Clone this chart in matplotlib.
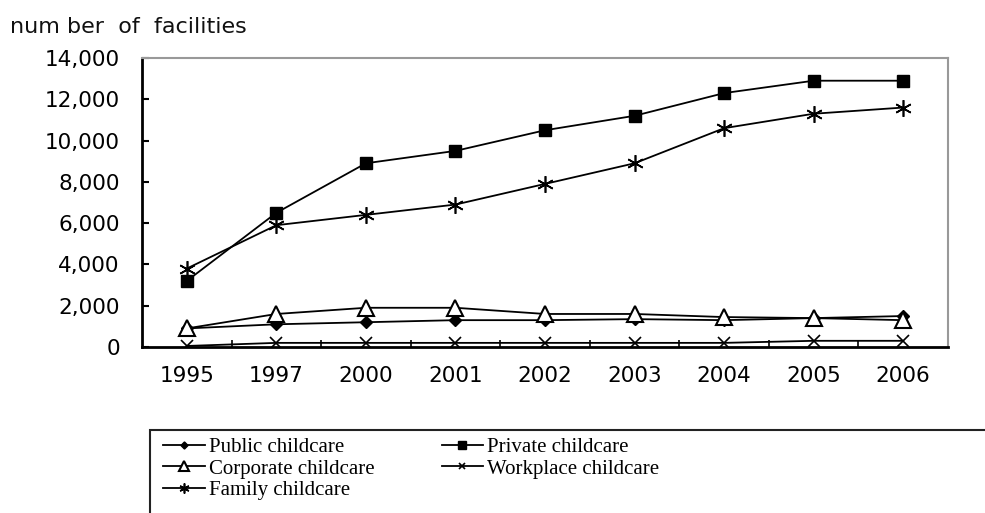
import matplotlib.pyplot as plt
from matplotlib.patches import Rectangle
from matplotlib.ticker import FuncFormatter

years = ["1995", "1997", "2000", "2001", "2002", "2003", "2004", "2005", "2006"]
public = [900, 1100, 1200, 1300, 1300, 1350, 1300, 1400, 1500]
private = [3200, 6500, 8900, 9500, 10500, 11200, 12300, 12900, 12900]
corporate = [900, 1600, 1900, 1900, 1600, 1600, 1450, 1400, 1300]
workplace = [50, 200, 200, 200, 200, 200, 200, 300, 300]
family = [3800, 5900, 6400, 6900, 7900, 8900, 10600, 11300, 11600]

fig = plt.figure(figsize=(9.85, 5.13), dpi=100)
ax = fig.add_axes([142 / 985, 1 - 347 / 513, 806 / 985, 289 / 513])

x = list(range(len(years)))
lw = 1.3
h_pub, = ax.plot(x, public, color="black", lw=lw, marker="D", ms=6,
                 mfc="black", label="Public childcare")
h_pri, = ax.plot(x, private, color="black", lw=lw, marker="s", ms=9,
                 mfc="black", label="Private childcare")
h_cor, = ax.plot(x, corporate, color="black", lw=lw, marker="^", ms=11,
                 mfc="white", mew=1.5, label="Corporate childcare")
h_wrk, = ax.plot(x, workplace, color="black", lw=lw, marker="x", ms=8,
                 mew=1.2, label="Workplace childcare")
h_fam, = ax.plot(x, family, color="black", lw=lw, marker=(6, 2, 0), ms=12,
                 mew=1.2, label="Family childcare")

ax.set_xlim(-0.5, len(years) - 0.5)
ax.set_ylim(0, 14000)
ax.set_yticks(range(0, 14001, 2000))
ax.yaxis.set_major_formatter(FuncFormatter(lambda v, p: f"{int(v):,}"))
ax.set_xticks(x)
ax.set_xticklabels(years)
ax.set_xticks([i + 0.5 for i in x[:-1]], minor=True)

ax.tick_params(axis="y", direction="in", length=5, width=1.5,
               labelsize=15.5, pad=16)
ax.tick_params(axis="x", which="major", length=0, labelsize=15.5, pad=14)
ax.tick_params(axis="x", which="minor", direction="in", length=5, width=1.2)
for lab in ax.get_xticklabels() + ax.get_yticklabels():
    lab.set_family("DejaVu Sans")

ax.spines["left"].set_linewidth(2)
ax.spines["bottom"].set_linewidth(2)
ax.spines["top"].set_color("#999999")
ax.spines["right"].set_color("#999999")
ax.spines["top"].set_linewidth(1.5)
ax.spines["right"].set_linewidth(1.5)

fig.text(10 / 985, 1 - 33 / 513, "num ber  of  facilities", fontsize=16,
         family="DejaVu Sans", va="baseline", ha="left", color="#111111")

# legend box runs off the right and bottom edges
fig.patches.append(Rectangle((150 / 985, -0.05), 0.9, 1 - 430 / 513 + 0.05,
                             transform=fig.transFigure, fill=False,
                             edgecolor="#222222", lw=1.5))
fig.legend(handles=[h_pub, h_cor, h_fam, h_pri, h_wrk], ncol=2,
           loc="upper left", bbox_to_anchor=(153 / 985, 1 - 427 / 513),
           frameon=False, prop={"family": "Liberation Serif", "size": 15},
           handlelength=2.0, handletextpad=0.2, labelspacing=0.1,
           columnspacing=3.2, markerscale=0.6, borderpad=0)

fig.savefig("out.png", dpi=100)
